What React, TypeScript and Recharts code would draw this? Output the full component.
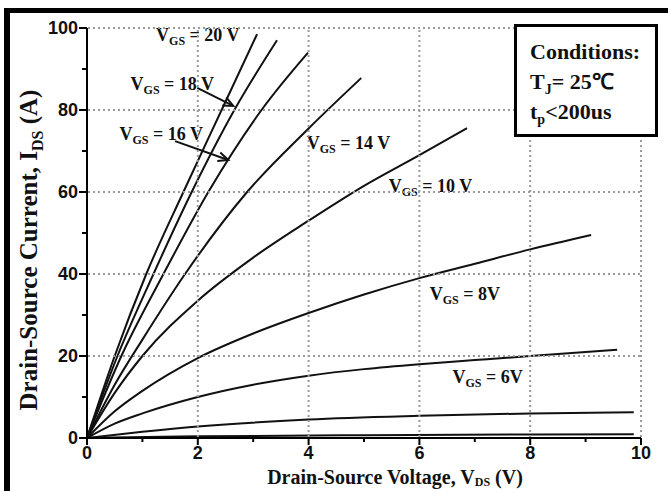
import { LineChart, Line, XAxis, YAxis, ReferenceDot, ReferenceLine } from 'recharts';

const serif = '"Liberation Serif", "Times New Roman", serif';
const sans = '"Liberation Sans", Arial, sans-serif';

// output curves, drain-source voltage (V) vs drain current (A)
const vgs20 = [
  { v: 0, i: 0 }, { v: 0.5, i: 20 }, { v: 1.07, i: 40 }, { v: 1.74, i: 60 },
  { v: 2.43, i: 80 }, { v: 3.07, i: 98.5 },
];
const vgs18 = [
  { v: 0, i: 0 }, { v: 0.55, i: 20 }, { v: 1.2, i: 40 }, { v: 1.89, i: 60 },
  { v: 2.66, i: 80 }, { v: 3.43, i: 97 },
];
const vgs16 = [
  { v: 0, i: 0 }, { v: 0.62, i: 20 }, { v: 1.38, i: 40 }, { v: 2.19, i: 60 },
  { v: 3.15, i: 80 }, { v: 3.99, i: 94 },
];
const vgs14 = [
  { v: 0, i: 0 }, { v: 0.5, i: 13 }, { v: 1, i: 24 }, { v: 1.77, i: 40 },
  { v: 2.89, i: 60 }, { v: 4.0, i: 75.5 }, { v: 4.95, i: 87.8 },
];
const vgs10 = [
  { v: 0, i: 0 }, { v: 0.5, i: 11 }, { v: 1, i: 20 }, { v: 2, i: 33.5 },
  { v: 3, i: 44 }, { v: 4, i: 53 }, { v: 5, i: 61.5 }, { v: 6, i: 69 }, { v: 6.86, i: 75.6 },
];
const vgs8 = [
  { v: 0, i: 0 }, { v: 0.5, i: 6.5 }, { v: 1, i: 11.5 }, { v: 2, i: 19.5 },
  { v: 3, i: 25.5 }, { v: 4, i: 30.5 }, { v: 5, i: 35 }, { v: 6, i: 39 },
  { v: 7, i: 42.5 }, { v: 8, i: 46 }, { v: 9.1, i: 49.5 },
];
const vgs6 = [
  { v: 0, i: 0 }, { v: 0.5, i: 3.5 }, { v: 1, i: 6 }, { v: 2, i: 10 },
  { v: 3, i: 13 }, { v: 4, i: 15.2 }, { v: 5, i: 16.8 }, { v: 6, i: 18 },
  { v: 7, i: 19 }, { v: 8, i: 20 }, { v: 9.57, i: 21.5 },
];
const vgs4 = [
  { v: 0, i: 0 }, { v: 1, i: 1.5 }, { v: 2, i: 2.8 }, { v: 4, i: 4.5 },
  { v: 6, i: 5.4 }, { v: 8, i: 6 }, { v: 9.87, i: 6.3 },
];
const vgs2 = [
  { v: 0, i: 0 }, { v: 2, i: 0.4 }, { v: 5, i: 0.7 }, { v: 9.87, i: 0.9 },
];

const curves = [vgs20, vgs18, vgs16, vgs14, vgs10, vgs8, vgs6, vgs4, vgs2];

const xTicks = [0, 1, 2, 3, 4, 5, 6, 7, 8, 9, 10];
const yTicks = [0, 10, 20, 30, 40, 50, 60, 70, 80, 90, 100];

// curve labels and arrows (anchored in data units)
const labels = [
  { text: ' = 20 V', v: 2.0, i: 96.8 },
  { text: ' = 18 V', v: 1.54, i: 84.9 },
  { text: ' = 16 V', v: 1.34, i: 72.7 },
  { text: ' = 14 V', v: 4.72, i: 70.5 },
  { text: ' = 10 V', v: 6.2, i: 60 },
  { text: ' = 8V', v: 6.82, i: 33.7 },
  { text: ' = 6V', v: 7.23, i: 13.4 },
];
const arrows = [
  [{ x: 1.99, y: 85.4 }, { x: 2.64, y: 81 }],
  [{ x: 1.59, y: 72.4 }, { x: 2.55, y: 67.8 }],
];

// plot box size, used to run the dotted grid out from the ticks
const PLOT_W = 554;
const PLOT_H = 410;
const gridStyle = { stroke: '#9a9a9a', strokeWidth: 2, strokeDasharray: '2 3' };

const XTick = ({ x, y, payload }: any) => {
  const major = payload.value % 2 === 0;
  return (
    <g>
      {major && payload.value > 0 && <line x1={x} y1={y - 1} x2={x} y2={y - PLOT_H} {...gridStyle} />}
      <line x1={x} y1={y} x2={x} y2={y + (major ? 7 : 4)} stroke="#000" strokeWidth={2} />
      {major && (
        <text x={x} y={y + 21} textAnchor="middle" fontFamily={sans} fontWeight="bold" fontSize={18} fill="#111">
          {payload.value}
        </text>
      )}
    </g>
  );
};

const YTick = ({ x, y, payload }: any) => {
  const major = payload.value % 20 === 0;
  return (
    <g>
      {major && payload.value > 0 && <line x1={x + 1} y1={y} x2={x + PLOT_W} y2={y} {...gridStyle} />}
      <line x1={x - (major ? 8 : 5)} y1={y} x2={x} y2={y} stroke="#000" strokeWidth={2} />
      {major && (
        <text x={x - 9} y={y + 6} textAnchor="end" fontFamily={sans} fontWeight="bold" fontSize={18} fill="#111">
          {payload.value}
        </text>
      )}
    </g>
  );
};

const labelShape = (text: string) => (p: any) => (
  <text x={p.cx} y={p.cy} textAnchor="middle" fontFamily={serif} fontWeight="bold" fontSize={18} fill="#111">
    V<tspan fontSize={12} dy={4}>GS</tspan>
    <tspan dy={-4}>{text}</tspan>
  </text>
);

const Arrow = (p: any) => {
  const { x1, y1, x2, y2 } = p;
  const a = Math.atan2(y2 - y1, x2 - x1);
  const len = 11;
  const s = 0.42;
  const ax = x2 - len * Math.cos(a - s);
  const ay = y2 - len * Math.sin(a - s);
  const bx = x2 - len * Math.cos(a + s);
  const by = y2 - len * Math.sin(a + s);
  return (
    <g>
      <line x1={x1} y1={y1} x2={x2} y2={y2} stroke="#111" strokeWidth={2} />
      <polyline points={`${ax},${ay} ${x2},${y2} ${bx},${by}`} fill="none" stroke="#111" strokeWidth={2} />
    </g>
  );
};

const subStyle = { fontSize: 14, verticalAlign: -5, lineHeight: 0 };

export default function App() {
  return (
    <div style={{ position: 'absolute', left: 0, top: 0, width: 668, height: 491, background: '#fff', overflow: 'hidden' }}>
      <div
        style={{
          position: 'absolute', left: 4, top: 8, width: 664, height: 483,
          borderTop: '5px solid #000', borderLeft: '6px solid #000', boxSizing: 'border-box',
        }}
      />
      <div style={{ position: 'absolute', left: 0, top: 0 }}>
        <LineChart width={668} height={491} margin={{ top: 28, right: 27, bottom: 23, left: 47 }}>
          <XAxis
            type="number"
            dataKey="v"
            domain={[0, 10]}
            ticks={xTicks}
            interval={0}
            height={30}
            tickSize={0}
            tickMargin={0}
            tickLine={false}
            tick={<XTick />}
            axisLine={{ stroke: '#000', strokeWidth: 2 }}
            allowDataOverflow
          />
          <YAxis
            type="number"
            domain={[0, 100]}
            ticks={yTicks}
            interval={0}
            width={40}
            tickSize={0}
            tickMargin={0}
            tickLine={false}
            tick={<YTick />}
            axisLine={{ stroke: '#000', strokeWidth: 2 }}
            allowDataOverflow
          />
          {curves.map((c, k) => (
            <Line
              key={k}
              data={c}
              dataKey="i"
              type="monotone"
              stroke="#111"
              strokeWidth={2}
              dot={false}
              isAnimationActive={false}
            />
          ))}
          {labels.map((l, k) => (
            <ReferenceDot key={k} x={l.v} y={l.i} r={1} shape={labelShape(l.text)} />
          ))}
          {arrows.map((seg, k) => (
            <ReferenceLine key={k} segment={seg} shape={Arrow} />
          ))}
        </LineChart>
      </div>
      <div
        style={{
          position: 'absolute', left: 514, top: 24, width: 144, height: 113, boxSizing: 'border-box',
          border: '3px solid #000', background: '#fff', fontFamily: serif, fontWeight: 'bold',
          fontSize: 22, color: '#111', padding: '10px 0 0 13px', lineHeight: '30px',
        }}
      >
        <div>Conditions:</div>
        <div>T<sub style={subStyle}>J</sub>= 25℃</div>
        <div>t<sub style={subStyle}>p</sub>&lt;200us</div>
      </div>
      <svg width={668} height={491} style={{ position: 'absolute', left: 0, top: 0, pointerEvents: 'none' }}>
        <text x={395} y={484} textAnchor="middle" fontFamily={serif} fontWeight="bold" fontSize={20} fill="#111">
          Drain-Source Voltage, V<tspan fontSize={12} dy={2}>DS</tspan>
          <tspan dy={-2}> (V)</tspan>
        </text>
        <text transform="translate(37,250) rotate(-90)" textAnchor="middle" fontFamily={serif} fontWeight="bold" fontSize={25} fill="#111">
          Drain-Source Current, I<tspan fontSize={16} dy={6}>DS</tspan>
          <tspan dy={-6}> (A)</tspan>
        </text>
      </svg>
    </div>
  );
}
